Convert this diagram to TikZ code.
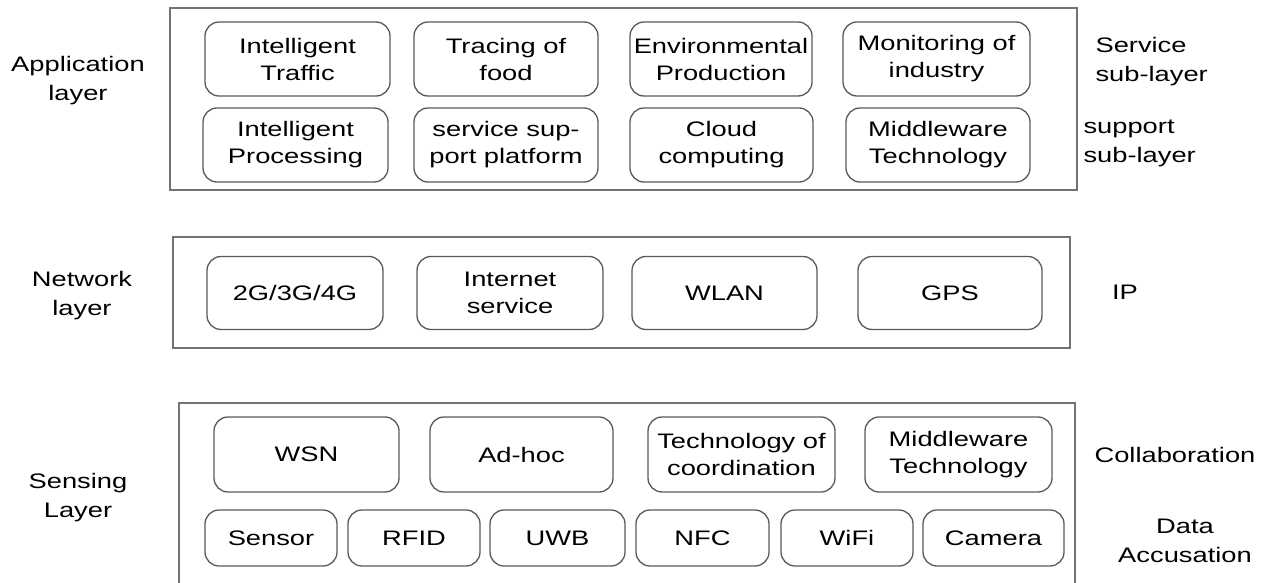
\documentclass[tikz,border=0pt]{standalone}
\usepackage{fontspec}
\setmainfont{Liberation Sans}[FakeStretch=1.3]
\usepackage{tikz}

\tikzset{
  cell/.style={draw=black!65, line width=1.3pt, rounded corners=14pt,
    align=center, inner sep=0pt, font=\fontsize{21}{27}\selectfont},
  layerbox/.style={draw=black!55, line width=2pt},
  side/.style={align=center, font=\fontsize{21}{29}\selectfont},
  sideL/.style={align=left, anchor=west, font=\fontsize{21}{29}\selectfont}
}

\begin{document}
\begin{tikzpicture}[x=1pt, y=-1pt]
\useasboundingbox (0,0) rectangle (1285,583);

% layer frames
\draw[layerbox] (170,8) rectangle (1077,190);
\draw[layerbox] (173,237) rectangle (1070,348);
\draw[layerbox] (179,600) |- (1075,403) -- (1075,600);

% application layer
\foreach \cx/\w/\txt [count=\i] in {297.5/185/{Intelligent\\Traffic}, 506/184/{Tracing of\\food},
    721/182/{Environmental\\Production}, 936.5/187/{Monitoring of\\industry}}
	\node[cell, minimum width=\w, minimum height=74] (srv\i) at (\cx,59) {\txt};
\foreach \cx/\w/\txt [count=\i] in {295.5/185/{Intelligent\\Processing}, 506/184/{service sup-\\port platform},
    721.5/183/{Cloud\\computing}, 938/184/{Middleware\\Technology}}
	\node[cell, minimum width=\w, minimum height=74] (sup\i) at (\cx,145) {\txt};

% network layer
\foreach \cx/\w/\txt [count=\i] in {295/176/{2G/3G/4G}, 510/186/{Internet\\service},
    724.5/185/{WLAN}, 950/184/{GPS}}
	\node[cell, minimum width=\w, minimum height=73] (net\i) at (\cx,293) {\txt};

% sensing layer
\foreach \cx/\w/\txt [count=\i] in {306.5/185/{WSN}, 521.5/183/{Ad-hoc},
    741.5/187/{Technology of\\coordination}, 958.5/187/{Middleware\\Technology}}
	\node[cell, minimum width=\w, minimum height=75] (col\i) at (\cx,454.5) {\txt};
\foreach \cx/\w/\txt [count=\i] in {271/132/{Sensor}, 414/132/{RFID}, 557.5/135/{UWB},
    702.5/133/{NFC}, 847/132/{WiFi}, 993.5/141/{Camera}}
	\node[cell, minimum width=\w, minimum height=56] (acq\i) at (\cx,538) {\txt};

% layer names
\node[side] (appL) at (78,81) {Application\\layer};
\node[side] (netL) at (82,296) {Network\\layer};
\node[side] (senL) at (78,498) {Sensing\\Layer};

% sub-layer names
\node[sideL] (srvL) at (1085,62) {\hspace*{7pt}Service\\\hspace*{7pt}sub-layer};
\node[sideL] (supL) at (1080,143) {support\\sub-layer};
\node[side] (ipL) at (1125,292) {IP};
\node[side] (colL) at (1175,455) {Collaboration};
\node[side] (acqL) at (1185,541) {Data\\Accusation};
\end{tikzpicture}
\end{document}
